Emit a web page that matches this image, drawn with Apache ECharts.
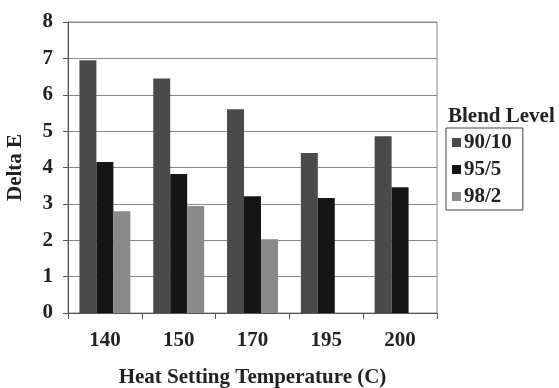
<!DOCTYPE html>
<html>
<head>
<meta charset="utf-8">
<script src="https://cdn.jsdelivr.net/npm/echarts@6/dist/echarts.min.js"></script>
<style>html,body{margin:0;padding:0;background:#fff}#c{width:559px;height:388px}</style>
</head>
<body>
<div id="c"></div>
<script>
var categories = ['140', '150', '170', '195', '200'];
var s9010 = [6.95, 6.45, 5.6, 4.4, 4.86];
var s955 = [4.15, 3.82, 3.21, 3.16, 3.46];
var s982 = [2.8, 2.94, 2.03, null, null];
var seriesNames = ['90/10', '95/5', '98/2'];

var F = '"Liberation Serif", "Times New Roman", serif';
var chart = echarts.init(document.getElementById('c'));
chart.setOption({
  animation: false,
  backgroundColor: '#fff',
  title: {
    text: 'Blend Level', left: 443, top: 101,
    textStyle: {fontFamily: F, fontWeight: 'bold', fontSize: 21, color: '#222'}
  },
  legend: {
    orient: 'vertical', left: 446, top: 128,
    data: seriesNames,
    itemWidth: 9, itemHeight: 9, itemGap: 6,
    padding: [4, 11, 3, 6],
    borderColor: '#444', borderWidth: 1,
    icon: 'rect',
    textStyle: {fontFamily: F, fontWeight: 'bold', fontSize: 21, color: '#222', padding: [0, 0, 0, -2]}
  },
  grid: {left: 68, right: 122, top: 22, bottom: 75, outerBoundsMode: 'none', containLabel: false, show: true, borderColor: '#888', borderWidth: 1, backgroundColor: 'transparent'},
  xAxis: {
    type: 'category', data: categories,
    name: 'Heat Setting Temperature (C)', nameLocation: 'middle', nameGap: 54,
    nameTextStyle: {fontFamily: F, fontWeight: 'bold', fontSize: 21, color: '#222'},
    axisLine: {lineStyle: {color: '#555', width: 1}},
    axisTick: {show: true, length: 6, lineStyle: {color: '#555'}},
    axisLabel: {fontFamily: F, fontWeight: 'bold', fontSize: 21, color: '#222', margin: 17}
  },
  yAxis: {
    type: 'value', min: 0, max: 8, interval: 1,
    name: 'Delta E', nameLocation: 'middle', nameGap: 42, nameRotate: 90,
    nameTextStyle: {fontFamily: F, fontWeight: 'bold', fontSize: 21, color: '#222'},
    axisLine: {show: true, lineStyle: {color: '#555', width: 1}},
    axisTick: {show: true, length: 5, lineStyle: {color: '#555'}},
    splitLine: {lineStyle: {color: '#888', width: 1}},
    axisLabel: {fontFamily: F, fontWeight: 'bold', fontSize: 21, color: '#222', margin: 15}
  },
  series: [
    {name: seriesNames[0], type: 'bar', data: s9010, barGap: '0%', barCategoryGap: '31%', itemStyle: {color: '#4a4a4a'}},
    {name: seriesNames[1], type: 'bar', data: s955, itemStyle: {color: '#151515'}},
    {name: seriesNames[2], type: 'bar', data: s982, itemStyle: {color: '#8a8a8a'}}
  ]
});
</script>
</body>
</html>
